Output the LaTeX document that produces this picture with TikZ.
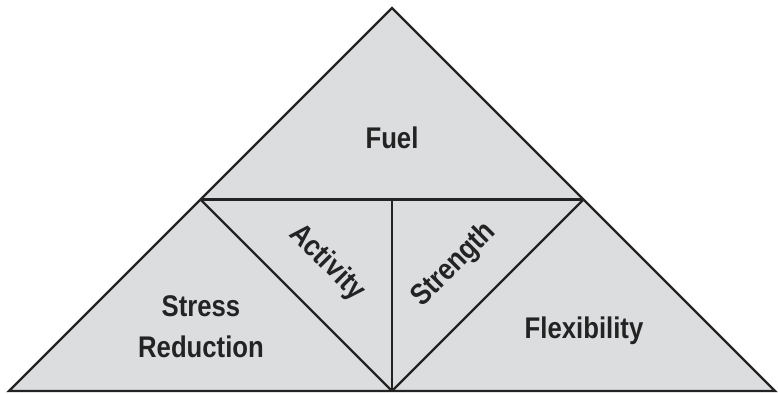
\documentclass[tikz,border=0pt]{standalone}
\usepackage{fontspec}
\usepackage{xcolor}

\newfontfamily\tetrafont[FakeStretch=0.86]{Liberation Sans}
\definecolor{panelgray}{RGB}{220,221,223}
\definecolor{edgegray}{RGB}{35,35,35}

\tikzset{
    edge/.style={draw=edgegray, line width=0.65pt},
    part/.style={font=\tetrafont\bfseries\fontsize{8.5}{11.7}\selectfont, text=edgegray, inner sep=0pt},
}

\begin{document}
\begin{tikzpicture}[x=0.01cm, y=-0.01cm]

    \useasboundingbox (0,0) rectangle (778,393);

    % Corners of the big triangle and the midpoints of its sides
    \coordinate (top)   at (392,8);
    \coordinate (left)  at (9,391);
    \coordinate (right) at (775,391);
    \coordinate (midL)  at (200.5,199.5);
    \coordinate (midR)  at (583.5,199.5);
    \coordinate (midB)  at (392,391);

    % Draw the outer triangle
    \filldraw[edge, fill=panelgray] (top) -- (left) -- (right) -- cycle;

    % Inner triangle and the split down the middle
    \draw[edge] (midL) -- (midR);
    \draw[edge] (midL) -- (midB);
    \draw[edge] (midR) -- (midB);
    \draw[edge] (midB) -- (392,199.5);

    % Labels
    \node[part, anchor=base] (fuel) at (392,148) {Fuel};
    \node[part, align=center] (stress) at (201,327) {Stress\\Reduction};
    \node[part, rotate=-45] (activity) at (327,263) {Activity};
    \node[part, rotate=45] (strength) at (454,265) {Strength};
    \node[part, anchor=base] (flex) at (584,338) {Flexibility};

\end{tikzpicture}
\end{document}
